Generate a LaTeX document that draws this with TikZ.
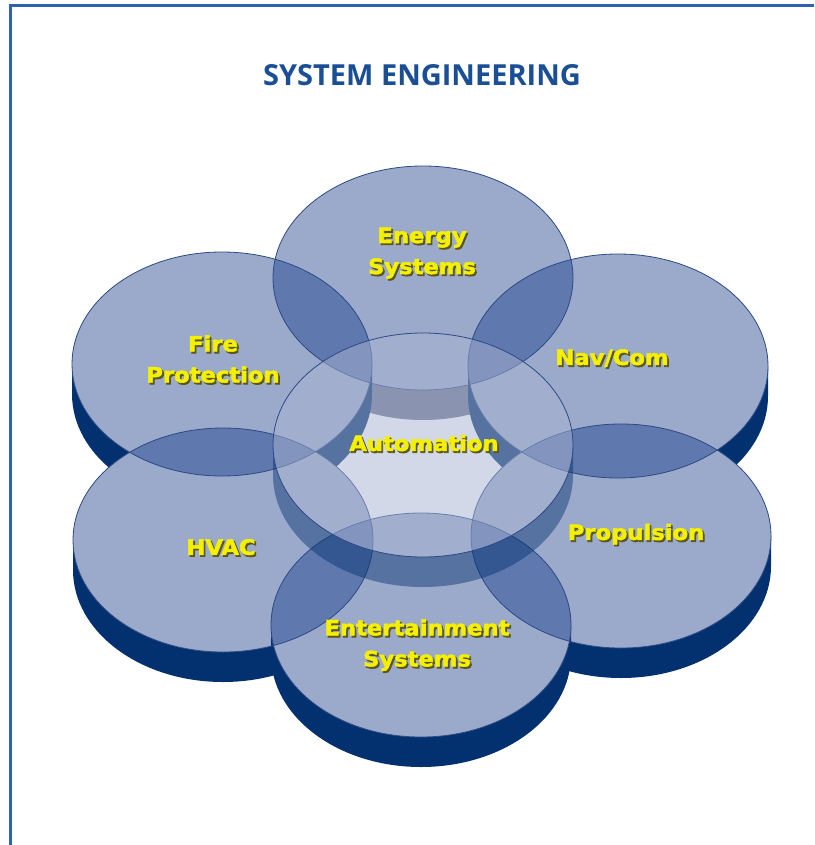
\documentclass[tikz,border=0pt]{standalone}
\usepackage{fontspec}
\setmainfont{Open Sans}
\newfontfamily\labelfont[FakeStretch=1.08]{DejaVu Sans}
\definecolor{frameblue}{HTML}{2D63AE}
\definecolor{titleblue}{HTML}{1A4F96}
\definecolor{discface}{HTML}{9BA9CB}
\definecolor{disclens}{HTML}{5F78AD}
\definecolor{discside}{HTML}{03316F}
\definecolor{discline}{HTML}{2B4A86}
\definecolor{wallgray}{HTML}{6D758F}
\definecolor{ringface}{HTML}{A7B3D1}
\definecolor{labelyellow}{HTML}{F4F000}
\definecolor{labelshade}{HTML}{5A561C}
\tikzset{face/.style={fill=discface}}
\tikzset{rim/.style={fill=discside}}
\tikzset{lens/.style={fill=disclens}}
\tikzset{discedge/.style={draw=discline,line width=0.8pt}}
\tikzset{ringtop/.style={fill=ringface,fill opacity=0.5}}
\tikzset{ringrim/.style={fill=discside,fill opacity=0.45}}
\tikzset{disctext/.style={text=labelyellow,align=center,inner sep=0pt,
  font=\labelfont\bfseries\fontsize{21}{31}\selectfont\addfontfeature{FakeBold=2.5}}}
\newcommand{\shaded}[1]{\rlap{\kern1.6pt\raisebox{-1.8pt}{\addfontfeature{FakeBold=4}\textcolor{labelshade}{#1}}}#1}
\newcommand{\faceof}[1]{(#1) ellipse [x radius=150pt,y radius=112pt]}
\newcommand{\rimof}[1]{([xshift=-150pt]#1) -- ([xshift=-150pt,yshift=-30pt]#1)
  arc[start angle=180,end angle=360,x radius=150pt,y radius=112pt] -- ([xshift=150pt]#1)
  arc[start angle=0,end angle=-180,x radius=150pt,y radius=112pt] -- cycle}

\begin{document}
\begin{tikzpicture}[x=1pt,y=-1pt]
    \useasboundingbox (0,0) rectangle (814,845);
    \fill[white] (0,0) rectangle (814,845);
    \draw[frameblue,line width=3pt] (10.5,845) -- (10.5,5.5) -- (814,5.5);
    \node[text=titleblue,font=\bfseries\fontsize{29}{29}\selectfont] (title) at (422,75) {SYSTEM ENGINEERING};

    \coordinate (energy) at (423,278);
    \coordinate (fire) at (222,364);
    \coordinate (navcom) at (618,366);
    \coordinate (hvac) at (223,540);
    \coordinate (prop) at (621,536);
    \coordinate (ent) at (421,625);
    \coordinate (auto) at (423,445);

    % outer discs, back to front
    \fill[rim,fill=wallgray] \rimof{energy};
    \fill[face] \faceof{energy};
    \fill[rim] \rimof{fire};
    \fill[face] \faceof{fire};
    \fill[rim] \rimof{navcom};
    \fill[face] \faceof{navcom};
    \fill[rim] \rimof{hvac};
    \fill[face] \faceof{hvac};
    \fill[rim] \rimof{prop};
    \fill[face] \faceof{prop};
    \fill[rim] \rimof{ent};
    \fill[face] \faceof{ent};

    % overlaps
    \begin{scope} \clip \faceof{energy}; \fill[lens] \faceof{fire}; \fill[lens] \faceof{navcom}; \end{scope}
    \begin{scope} \clip \faceof{hvac}; \fill[lens] \faceof{fire}; \fill[lens] \faceof{ent}; \end{scope}
    \begin{scope} \clip \faceof{prop}; \fill[lens] \faceof{navcom}; \fill[lens] \faceof{ent}; \end{scope}

    \foreach \d in {energy,fire,navcom,hvac,prop,ent}
      \draw[discedge] \faceof{\d};

    % centre ring
    \fill[ringrim] \rimof{auto};
    \fill[ringtop] \faceof{auto};
    \draw[discedge] \faceof{auto};

    \node[disctext] (energy-txt) at (422,254) {\shaded{Energy}\\\shaded{Systems}};
    \node[disctext] (fire-txt) at (213,360) {\shaded{Fire}\\\shaded{Protection}};
    \node[disctext] (navcom-txt) at (612,359) {\shaded{Nav/Com}};
    \node[disctext] (auto-txt) at (424,444) {\shaded{Automation}};
    \node[disctext] (hvac-txt) at (221,548) {\shaded{HVAC}};
    \node[disctext] (prop-txt) at (636,535) {\shaded{Propulsion}};
    \node[disctext] (ent-txt) at (417,646) {\shaded{Entertainment}\\\shaded{Systems}};
\end{tikzpicture}
\end{document}
